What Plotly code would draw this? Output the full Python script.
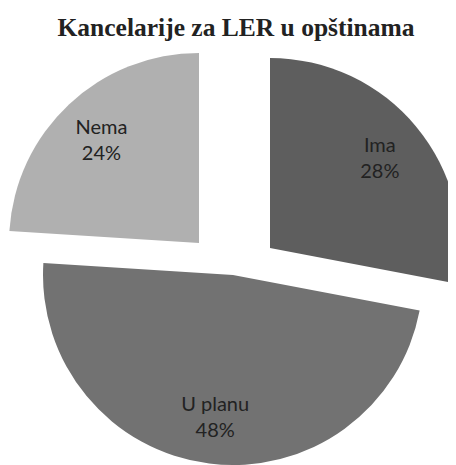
import plotly.graph_objects as go

# ---- data ----
labels = ["Ima", "U planu", "Nema"]
values = [28, 48, 24]
colors = ["#5e5e5e", "#727272", "#b0b0b0"]
chart_title = "Kancelarije za LER u opštinama"

# ---- layout constants ----
W, H = 456, 465
R = 190
# pixel centres (figure coordinates) of each exploded slice
centers = [(262, 240), (225, 267), (191, 235)]

def domain_for(cx, cy):
    x0 = max(0.0, (cx - R) / W)
    x1 = min(1.0, (cx + R) / W)
    y0 = max(0.0, 1 - (cy + R) / H)
    y1 = min(1.0, 1 - (cy - R) / H)
    return dict(x=[x0, x1], y=[y0, y1])

fig = go.Figure()
transparent = "rgba(0,0,0,0)"

for k in range(len(labels)):
    dom = domain_for(*centers[k])
    fill_colors = [colors[i] if i == k else transparent for i in range(len(labels))]
    # filled slice
    fig.add_trace(go.Pie(
        labels=labels, values=values, sort=False, direction="clockwise", rotation=0,
        domain=dom, marker=dict(colors=fill_colors, line=dict(width=0)),
        textinfo="none", hoverinfo="skip", showlegend=False,
    ))
    # label overlay (ring geometry puts labels at 3/4 of the radius)
    tmpl = ["%{label}<br>%{percent:.0%}" if i == k else "" for i in range(len(labels))]
    fig.add_trace(go.Pie(
        labels=labels, values=values, sort=False, direction="clockwise", rotation=0,
        domain=dom, hole=0.5,
        marker=dict(colors=[transparent] * len(labels), line=dict(width=0)),
        texttemplate=tmpl, textposition="inside", insidetextorientation="horizontal",
        textfont=dict(family="Lato", size=20, color="#222222"),
        hoverinfo="skip", showlegend=False,
    ))

fig.update_layout(
    width=W, height=H,
    margin=dict(l=0, r=0, t=0, b=0, pad=0),
    paper_bgcolor="white", plot_bgcolor="white",
    title=dict(text=chart_title, x=0.5, xanchor="center", xref="container",
               y=1 - 19 / H, yanchor="middle", yref="container",
               font=dict(family="Liberation Serif", size=25.5, color="#222222", weight="bold")),
)

fig.write_html("out.html")
